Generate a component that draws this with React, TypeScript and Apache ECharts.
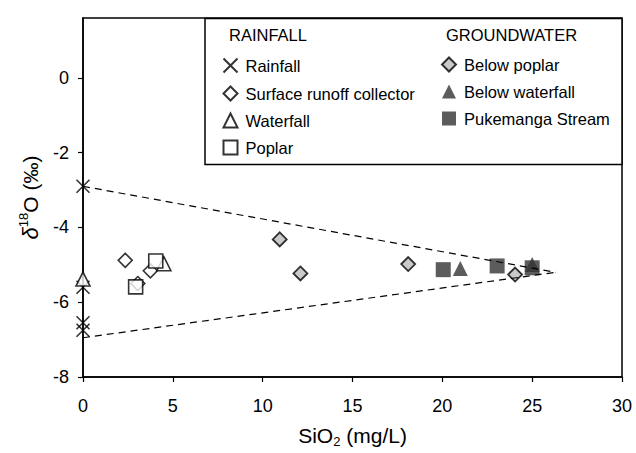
import React, { useEffect, useRef } from "react";
import * as echarts from "echarts";

const rainfall: number[][] = [[0, -2.9], [0, -5.6], [0, -6.55], [0, -6.75]];
const surfaceRunoff: number[][] = [[2.35, -4.88], [3.75, -5.16], [3.05, -5.5]];
const waterfall: number[][] = [[0, -5.38], [4.5, -4.97]];
const poplar: number[][] = [[4.05, -4.9], [2.93, -5.59]];
const belowPoplar: number[][] = [[10.95, -4.32], [12.1, -5.23], [18.1, -4.98], [24.05, -5.26]];
const belowWaterfall: number[][] = [[21.0, -5.1], [25.0, -4.99]];
const pukemanga: number[][] = [[20.05, -5.13], [23.05, -5.03], [25.0, -5.08]];
const upperMixLine: number[][] = [[0, -2.9], [26.3, -5.2]];
const lowerMixLine: number[][] = [[0, -6.95], [26.3, -5.2]];

const rainfallNames = ["Rainfall", "Surface runoff collector", "Waterfall", "Poplar"];
const groundwaterNames = ["Below poplar", "Below waterfall", "Pukemanga Stream"];
const yTicks = [-8, -6, -4, -2, 0];

const FONT = '"Liberation Sans", Arial, Helvetica, sans-serif';
const X_PATH = "path://M0,0L10,10M10,0L0,10";

export default function App() {
  const ref = useRef<HTMLDivElement>(null);
  useEffect(() => {
    if (!ref.current) return;
    const chart = echarts.init(ref.current, null, { renderer: "svg" });
    const open = { color: "#fff", borderColor: "#000", borderWidth: 1.6 };
    const dark = { color: "#333", borderColor: "#333", borderWidth: 0 };
    const legendText = { fontFamily: FONT, fontSize: 16.5, color: "#000", padding: [0, 0, 0, 3] };
    chart.setOption({
      animation: false,
      backgroundColor: "#fff",
      textStyle: { fontFamily: FONT },
      grid: { left: 83, right: 14, top: 18, bottom: 75, show: true, borderColor: "#000", borderWidth: 1.5, backgroundColor: "transparent" },
      xAxis: {
        type: "value", min: 0, max: 30, interval: 5,
        splitLine: { show: false },
        axisLine: { onZero: false, lineStyle: { color: "#000", width: 1.5 } },
        axisTick: { inside: false, length: 5, lineStyle: { color: "#000", width: 1.2 } },
        axisLabel: { color: "#000", fontSize: 18, fontFamily: FONT, margin: 20 },
        name: "{a|SiO}{s|2}{a| (mg/L)}",
        nameLocation: "middle", nameGap: 45,
        nameTextStyle: {
          rich: {
            a: { fontSize: 21, fontFamily: FONT, color: "#000", lineHeight: 26, verticalAlign: "middle" },
            s: { fontSize: 13, fontFamily: FONT, color: "#000", lineHeight: 13, verticalAlign: "bottom" },
          },
        },
      },
      yAxis: {
        type: "value", min: -8, max: 1.6, interval: 2,
        splitLine: { show: false },
        axisLine: { onZero: false, lineStyle: { color: "#000", width: 1.5 } },
        axisTick: { inside: false, length: 5, customValues: yTicks, lineStyle: { color: "#000", width: 1.2 } },
        axisLabel: { color: "#000", fontSize: 18, fontFamily: FONT, margin: 14, customValues: yTicks },
        name: "{d|δ}{s|18}{a|O (‰)}",
        nameLocation: "middle", nameGap: 40, nameRotate: 90,
        nameTextStyle: {
          rich: {
            d: { fontSize: 22, fontFamily: FONT, fontStyle: "italic", color: "#000", lineHeight: 26, verticalAlign: "middle" },
            a: { fontSize: 21, fontFamily: FONT, color: "#000", lineHeight: 26, verticalAlign: "middle" },
            s: { fontSize: 13, fontFamily: FONT, color: "#000", lineHeight: 13, verticalAlign: "top" },
          },
        },
      },
      legend: [
        {
          data: rainfallNames, orient: "vertical", left: 221, top: 56, padding: 0,
          itemWidth: 14, itemHeight: 14, itemGap: 10, selectedMode: false,
          textStyle: legendText, z: 6,
        },
        {
          data: groundwaterNames, orient: "vertical", left: 441, top: 56, padding: 0,
          itemWidth: 14, itemHeight: 14, itemGap: 10, selectedMode: false,
          textStyle: legendText, z: 6,
        },
      ],
      graphic: [
        { type: "rect", shape: { x: 205, y: 18.5, width: 417, height: 146 }, style: { fill: "#fff", stroke: "#000", lineWidth: 1.5 }, z: 5 },
        { type: "text", x: 229, y: 35, style: { text: "RAINFALL", font: `16.5px ${FONT}`, fill: "#000", verticalAlign: "middle" }, z: 6 },
        { type: "text", x: 446, y: 35, style: { text: "GROUNDWATER", font: `16.5px ${FONT}`, fill: "#000", verticalAlign: "middle" }, z: 6 },
      ],
      series: [
        { name: "Rainfall", type: "scatter", data: rainfall, symbol: X_PATH, symbolSize: 13, itemStyle: { color: "none", borderColor: "#000", borderWidth: 1.6 } },
        { name: "Surface runoff collector", type: "scatter", data: surfaceRunoff, symbol: "diamond", symbolSize: 14, itemStyle: open },
        { name: "Waterfall", type: "scatter", data: waterfall, symbol: "triangle", symbolSize: 14, itemStyle: open },
        { name: "Poplar", type: "scatter", data: poplar, symbol: "rect", symbolSize: 14, itemStyle: open },
        { name: "Below poplar", type: "scatter", data: belowPoplar, symbol: "diamond", symbolSize: 14, itemStyle: { color: "#bdbdbd", borderColor: "#000", borderWidth: 1.8 } },
        { name: "Below waterfall", type: "scatter", data: belowWaterfall, symbol: "triangle", symbolSize: 15, itemStyle: dark },
        { name: "Pukemanga Stream", type: "scatter", data: pukemanga, symbol: "rect", symbolSize: 15, itemStyle: dark },
        { name: "upper", type: "line", data: upperMixLine, symbol: "none", lineStyle: { color: "#000", width: 1.2, type: [7, 5] }, z: 3 },
        { name: "lower", type: "line", data: lowerMixLine, symbol: "none", lineStyle: { color: "#000", width: 1.2, type: [7, 5] }, z: 3 },
      ],
    });
    return () => chart.dispose();
  }, []);
  return <div ref={ref} style={{ width: 636, height: 453, position: "absolute", left: 0, top: 0 }} />;
}
